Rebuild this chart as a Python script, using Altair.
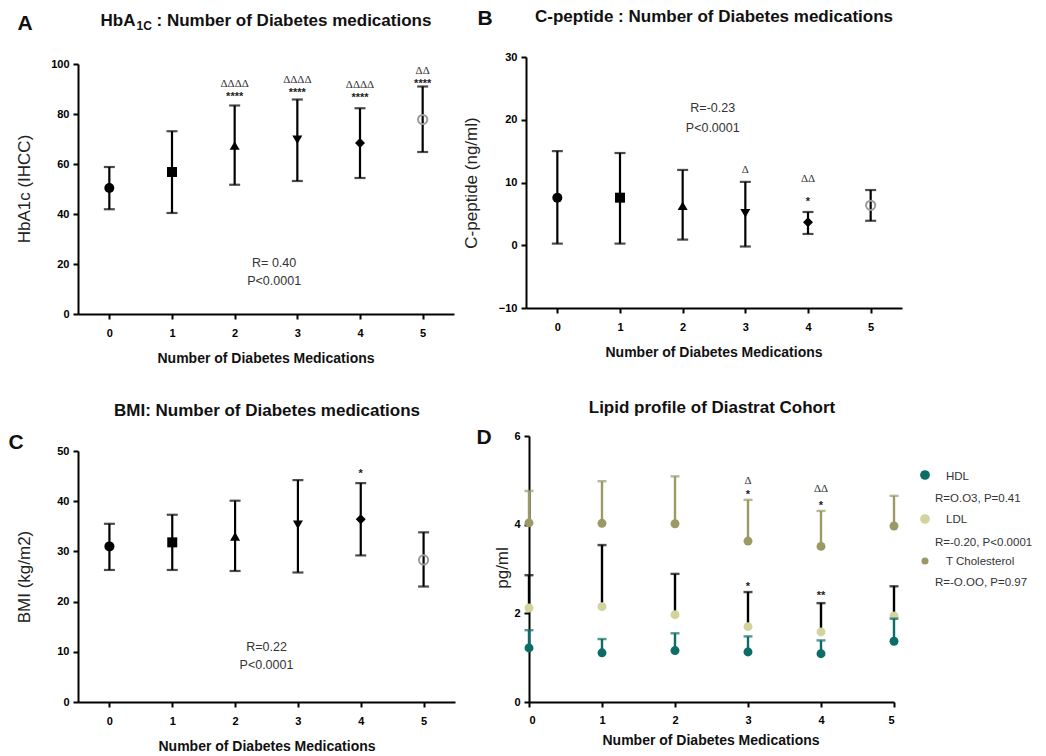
import altair as alt
import pandas as pd

FONT = "Liberation Sans"
SERIF = "Liberation Serif"
W, H = 1046, 756

# ---------------- data ----------------
meds = [0, 1, 2, 3, 4, 5]
shapes = ["circle", "square", "triangle-up", "triangle-down", "diamond", "circle"]
is_open = [False, False, False, False, False, True]

hba1c_mean = [50.4, 56.8, 67.4, 69.7, 68.4, 77.8]
hba1c_lo = [41.9, 40.4, 51.7, 53.2, 54.4, 64.8]
hba1c_hi = [58.8, 73.1, 83.4, 85.8, 82.3, 91.0]
hba1c_delta_x = [2, 3, 4, 5]
hba1c_delta_y = [92.2, 93.8, 91.6, 97.2]
hba1c_delta_t = ["ΔΔΔΔ", "ΔΔΔΔ", "ΔΔΔΔ", "ΔΔ"]
hba1c_star_x = [2, 3, 4, 5]
hba1c_star_y = [88.2, 89.8, 87.6, 93.2]
hba1c_star_t = ["****", "****", "****", "****"]
hba1c_stats = ["R= 0.40", "P<0.0001"]
hba1c_stats_x = [2.63, 2.63]
hba1c_stats_y = [20.5, 13.3]

cpep_mean = [7.58, 7.58, 6.3, 5.1, 3.66, 6.36]
cpep_lo = [0.26, 0.26, 0.9, -0.2, 1.8, 3.9]
cpep_hi = [15.0, 14.7, 12.0, 10.1, 5.3, 8.8]
cpep_delta_x = [3, 4]
cpep_delta_y = [12.0, 10.5]
cpep_delta_t = ["Δ", "ΔΔ"]
cpep_star_x = [4]
cpep_star_y = [7.3]
cpep_star_t = ["*"]
cpep_stats = ["R=-0.23", "P<0.0001"]
cpep_stats_x = [2.48, 2.48]
cpep_stats_y = [21.9, 18.7]

bmi_mean = [31.0, 31.8, 33.0, 35.3, 36.4, 28.3]
bmi_lo = [26.3, 26.3, 26.1, 25.8, 29.2, 23.0]
bmi_hi = [35.5, 37.3, 40.1, 44.2, 43.6, 33.8]
bmi_delta_x = []
bmi_delta_y = []
bmi_delta_t = []
bmi_star_x = [4]
bmi_star_y = [46.0]
bmi_star_t = ["*"]
bmi_stats = ["R=0.22", "P<0.0001"]
bmi_stats_x = [2.5, 2.5]
bmi_stats_y = [11.0, 7.4]

lipid_names = ["T Cholesterol", "LDL", "HDL"]
lipid_point_colors = ["#9b9a66", "#d4d39e", "#0b6c68"]
lipid_bar_colors = ["#9b9a66", "#000000", "#0b6c68"]
tc_mean = [4.04, 4.03, 4.02, 3.63, 3.51, 3.97]
tc_hi = [4.76, 4.98, 5.09, 4.56, 4.31, 4.65]
ldl_mean = [2.12, 2.15, 1.97, 1.70, 1.58, 1.94]
ldl_hi = [2.86, 3.54, 2.89, 2.48, 2.23, 2.61]
hdl_mean = [1.22, 1.11, 1.16, 1.13, 1.09, 1.37]
hdl_hi = [1.62, 1.42, 1.55, 1.48, 1.39, 1.88]
lipid_delta_x = [3, 4]
lipid_delta_y = [4.98, 4.80]
lipid_delta_t = ["Δ", "ΔΔ"]
lipid_star_x = [3, 4, 3, 4]
lipid_star_y = [4.74, 4.49, 2.67, 2.46]
lipid_star_t = ["*", "*", "*", "**"]
legend_names = ["HDL", "LDL", "T Cholesterol"]
legend_colors = ["#0b6c68", "#d4d39e", "#9b9a66"]
legend_stats = ["R=O.O3, P=0.41", "R=-0.20, P<0.0001", "R=-O.OO, P=0.97"]

XTITLE = "Number of Diabetes Medications"


def one(text):
    return alt.Chart(pd.DataFrame({"t": [text]}))


def label(text, x, y, size, weight="normal", align="center", font=FONT, color="#111", angle=0):
    return one(text).mark_text(
        font=font, fontSize=size, fontWeight=weight, align=align, baseline="middle",
        color=color, angle=angle
    ).encode(text="t:N", x=alt.value(x), y=alt.value(y))


def anno_layer(xs, ys, ts, xscale, yscale, xaxis, yaxis, font, size, weight, color, dy=0):
    df = pd.DataFrame({"n": xs, "v": ys, "t": ts})
    return alt.Chart(df).mark_text(
        font=font, fontSize=size, fontWeight=weight, color=color, baseline="middle", dy=dy
    ).encode(
        x=alt.X("n:Q", scale=xscale, axis=xaxis),
        y=alt.Y("v:Q", scale=yscale, axis=yaxis),
        text="t:N",
    )


def axes(xdomain, xrange_, ydomain, yrange_, yticks, xpad):
    xs = alt.Scale(domain=xdomain, range=xrange_, nice=False, zero=False)
    ys = alt.Scale(domain=ydomain, range=yrange_, nice=False, zero=False)
    xa = alt.Axis(orient="bottom", offset=yrange_[0] - H, values=meds, format="d",
                  title=None, labelPadding=xpad)
    ya = alt.Axis(orient="left", offset=-xrange_[0], values=yticks, format="d",
                  title=None, labelPadding=4)
    return xs, ys, xa, ya


def marker_panel(mean, lo, hi, xr, yr, ydomain, yticks,
                 dx, dy_, dt, sx, sy, st, stats, stx, sty, extra):
    xs, ys, xa, ya = axes([-0.5, 5.5], xr, ydomain, yr, yticks, 8)
    df = pd.DataFrame({"n": meds, "mean": mean, "lo": lo, "hi": hi,
                       "shape": shapes, "open": is_open})
    base = alt.Chart(df)
    X = alt.X("n:Q", scale=xs, axis=xa)
    bars = base.mark_rule(color="black", strokeWidth=2.2).encode(
        x=X, y=alt.Y("lo:Q", scale=ys, axis=ya), y2="hi:Q")
    cap_lo = base.mark_tick(orient="horizontal", color="black", size=11, thickness=2.2).encode(
        x=X, y=alt.Y("lo:Q", scale=ys, axis=ya))
    cap_hi = base.mark_tick(orient="horizontal", color="black", size=11, thickness=2.2).encode(
        x=X, y=alt.Y("hi:Q", scale=ys, axis=ya))
    filled = base.transform_filter("!datum.open").mark_point(
        filled=True, color="black", size=100, opacity=1).encode(
        x=X, y=alt.Y("mean:Q", scale=ys, axis=ya),
        shape=alt.Shape("shape:N", scale=None, legend=None))
    hollow = base.transform_filter("datum.open").mark_point(
        filled=False, color="#9a9a9a", strokeWidth=2, size=85, opacity=1).encode(
        x=X, y=alt.Y("mean:Q", scale=ys, axis=ya))
    layers = [bars, cap_lo, cap_hi, filled, hollow]
    if dt:
        layers.append(anno_layer(dx, dy_, dt, xs, ys, xa, ya, SERIF, 11, "normal", "#333"))
    if st:
        layers.append(anno_layer(sx, sy, st, xs, ys, xa, ya, FONT, 11, "bold", "#222", dy=3))
    layers.append(anno_layer(stx, sty, stats, xs, ys, xa, ya, FONT, 12.5, "normal", "#333"))
    layers.extend(extra)
    return alt.layer(*layers)


# ---------------- panel A ----------------
extra_a = [
    label("A", 25, 24, 21, "bold"),
    label("HbA", 100.5, 21, 17, "bold", "left"),
    label("1C", 136.5, 26, 12, "bold", "left"),
    label(": Number of Diabetes medications", 156.5, 21, 17, "bold", "left"),
    label("HbA1c (IHCC)", 25, 189, 17, color="#222", angle=270),
    label(XTITLE, 266, 359, 14, "bold"),
]
panel_a = marker_panel(hba1c_mean, hba1c_lo, hba1c_hi, [78, 454], [314, 64], [0, 100],
                       [0, 20, 40, 60, 80, 100],
                       hba1c_delta_x, hba1c_delta_y, hba1c_delta_t,
                       hba1c_star_x, hba1c_star_y, hba1c_star_t,
                       hba1c_stats, hba1c_stats_x, hba1c_stats_y, extra_a)

# ---------------- panel B ----------------
extra_b = [
    label("B", 485, 19, 21, "bold"),
    label("C-peptide : Number of Diabetes medications", 714, 17, 17, "bold"),
    label("C-peptide (ng/ml)", 472, 183, 17, color="#222", angle=270),
    label(XTITLE, 714, 353, 14, "bold"),
]
panel_b = marker_panel(cpep_mean, cpep_lo, cpep_hi, [526, 902], [308, 57], [-10, 30],
                       [-10, 0, 10, 20, 30],
                       cpep_delta_x, cpep_delta_y, cpep_delta_t,
                       cpep_star_x, cpep_star_y, cpep_star_t,
                       cpep_stats, cpep_stats_x, cpep_stats_y, extra_b)

# ---------------- panel C ----------------
extra_c = [
    label("C", 16, 443, 21, "bold"),
    label("BMI: Number of Diabetes medications", 267, 411, 17, "bold"),
    label("BMI (kg/m2)", 25, 577, 17, color="#222", angle=270),
    label(XTITLE, 267, 747, 14, "bold"),
]
panel_c = marker_panel(bmi_mean, bmi_lo, bmi_hi, [78, 455], [702, 451], [0, 50],
                       [0, 10, 20, 30, 40, 50],
                       bmi_delta_x, bmi_delta_y, bmi_delta_t,
                       bmi_star_x, bmi_star_y, bmi_star_t,
                       bmi_stats, bmi_stats_x, bmi_stats_y, extra_c)

# ---------------- panel D ----------------
xs_d, ys_d, xa_d, ya_d = axes([0, 5], [529, 894], [0, 6], [702, 436], [0, 2, 4, 6], 7)
series_means = [tc_mean, ldl_mean, hdl_mean]
series_his = [tc_hi, ldl_hi, hdl_hi]
d_layers = []
for name, pcol, bcol, mv, hv in zip(lipid_names, lipid_point_colors, lipid_bar_colors,
                                    series_means, series_his):
    sdf = pd.DataFrame({"n": meds, "mean": mv, "hi": hv, "series": name})
    sb = alt.Chart(sdf)
    XD = alt.X("n:Q", scale=xs_d, axis=xa_d)
    d_layers.append(sb.mark_rule(color=bcol, strokeWidth=2.4).encode(
        x=XD, y=alt.Y("mean:Q", scale=ys_d, axis=ya_d), y2="hi:Q"))
    d_layers.append(sb.mark_tick(orient="horizontal", color=bcol, size=9, thickness=2.4).encode(
        x=XD, y=alt.Y("hi:Q", scale=ys_d, axis=ya_d)))
    d_layers.append(sb.mark_point(filled=True, color=pcol, size=80, opacity=1).encode(
        x=XD, y=alt.Y("mean:Q", scale=ys_d, axis=ya_d)))
d_layers.append(anno_layer(lipid_delta_x, lipid_delta_y, lipid_delta_t, xs_d, ys_d,
                           xa_d, ya_d, SERIF, 11, "normal", "#333"))
d_layers.append(anno_layer(lipid_star_x, lipid_star_y, lipid_star_t, xs_d, ys_d,
                           xa_d, ya_d, FONT, 11, "bold", "#222", dy=3))
d_layers.append(label("D", 484, 438, 21, "bold"))
d_layers.append(label("Lipid profile of Diastrat Cohort", 712, 408, 17, "bold"))
d_layers.append(label("pg/ml", 503, 568, 17, color="#222", angle=270))
d_layers.append(label(XTITLE, 711, 741, 14, "bold"))
legend_circle_y = [475, 519, 561]
legend_name_y = [477, 520, 562]
legend_stat_y = [499, 543, 583]
legend_sizes = [95, 95, 50]
for nm, col, stt, cy, ny, sy_, sz in zip(legend_names, legend_colors, legend_stats,
                                         legend_circle_y, legend_name_y, legend_stat_y,
                                         legend_sizes):
    d_layers.append(one(nm).mark_point(filled=True, color=col, size=sz, opacity=1).encode(
        x=alt.value(925), y=alt.value(cy)))
    d_layers.append(label(nm, 946, ny, 11.5, "normal", "left", color="#333"))
    d_layers.append(label(stt, 935, sy_, 11.5, "normal", "left", color="#333"))
panel_d = alt.layer(*d_layers)

# ---------------- assemble ----------------
chart = alt.layer(panel_a, panel_b, panel_c, panel_d).resolve_scale(
    x="independent", y="independent"
).properties(
    width=W, height=H,
    autosize=alt.AutoSizeParams(type="none"),
    padding=0,
    background="white",
).configure_view(stroke=None).configure_axis(
    grid=False,
    domainColor="#000", domainWidth=2,
    tickColor="#000", tickWidth=2, tickSize=5,
    labelFont=FONT, labelFontSize=11, labelFontWeight="bold", labelColor="#000",
)

chart.save("out.html", embed_options={"renderer": "svg", "actions": False})
